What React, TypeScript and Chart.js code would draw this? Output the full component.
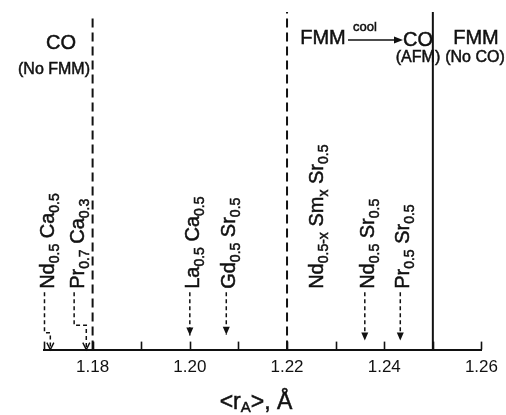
import { useEffect, useRef } from 'react';
import { Chart, registerables } from 'chart.js';

Chart.register(...registerables);

// ---- data ----
const xMin = 1.17;
const xMax = 1.26;
const xStep = 0.01;
const tickLabelValues = [1.18, 1.2, 1.22, 1.24, 1.26];

// phase boundaries (<r_A> in Å)
const boundaryRA = [1.18, 1.22, 1.25];
const boundaryDashed = [true, true, false];

// compounds
const compoundNames = [
  'Nd_{0.5} Ca_{0.5}',
  'Pr_{0.7} Ca_{0.3}',
  'La_{0.5} Ca_{0.5}',
  'Gd_{0.5} Sr_{0.5}',
  'Nd_{0.5-x} Sm_{x} Sr_{0.5}',
  'Nd_{0.5} Sr_{0.5}',
  'Pr_{0.5} Sr_{0.5}',
];
const compoundRA: (number | null)[] = [1.1713, 1.1787, 1.2, 1.2075, null, 1.236, 1.2433];
const labelRA = [1.1701, 1.1762, 1.2, 1.2075, 1.2255, 1.236, 1.2433];

// region texts
const regionTexts = ['CO', '(No FMM)', 'FMM', 'cool', 'CO', '(AFM)', 'FMM', '(No CO)'];

// ---- layout / style (not data) ----
const FONT = '"Liberation Sans", Arial, Helvetica, sans-serif';
const LABEL_START_V = 18;
const LINE_START_V = 17;
const bendV = [5, 7.2];
const tipV: Record<number, number> = { 2: 4.2, 3: 4.4, 5: 2.7, 6: 2.7 };

function parseRich(s: string) {
  const segs: { t: string; sub: boolean }[] = [];
  const re = /_\{([^}]*)\}/g;
  let last = 0;
  let m: RegExpExecArray | null;
  while ((m = re.exec(s))) {
    if (m.index > last) segs.push({ t: s.slice(last, m.index), sub: false });
    segs.push({ t: m[1], sub: true });
    last = m.index + m[0].length;
  }
  if (last < s.length) segs.push({ t: s.slice(last), sub: false });
  return segs;
}

function boldText(ctx: CanvasRenderingContext2D, t: string, x: number, y: number) {
  ctx.fillText(t, x, y);
  ctx.strokeText(t, x, y);
}

const schematicPlugin = {
  id: 'schematic',
  afterDraw(chart: any) {
    const ctx: CanvasRenderingContext2D = chart.ctx;
    const xs = chart.scales.x;
    const ys = chart.scales.y;
    const area = chart.chartArea;
    ctx.save();
    ctx.fillStyle = '#111';
    ctx.strokeStyle = '#111';

    // inward ticks
    ctx.lineWidth = 1.6;
    xs.ticks.forEach((t: any) => {
      const px = Math.round(xs.getPixelForValue(t.value)) + 0.5;
      ctx.beginPath();
      ctx.moveTo(px, area.bottom);
      ctx.lineTo(px, area.bottom - 8);
      ctx.stroke();
    });

    // arrowheads
    let dsIndex = boundaryRA.length;
    compoundRA.forEach((v, i) => {
      if (v === null) return;
      const meta = chart.getDatasetMeta(dsIndex++);
      const pts = meta.data;
      const p = pts[pts.length - 1];
      const bent = labelRA[i] !== v;
      ctx.setLineDash([]);
      if (bent) {
        ctx.lineWidth = 1.4;
        ctx.beginPath();
        ctx.moveTo(p.x - 3.5, p.y - 7);
        ctx.lineTo(p.x, p.y);
        ctx.lineTo(p.x + 3.5, p.y - 7);
        ctx.stroke();
      } else {
        ctx.beginPath();
        ctx.moveTo(p.x - 3.5, p.y - 8);
        ctx.lineTo(p.x + 3.5, p.y - 8);
        ctx.lineTo(p.x, p.y);
        ctx.closePath();
        ctx.fill();
      }
    });

    ctx.lineWidth = 0.5;

    // rotated compound labels
    const mainSize = 20;
    const subSize = 14;
    compoundNames.forEach((name, i) => {
      const bent = compoundRA[i] !== null && labelRA[i] !== compoundRA[i];
      const cx = xs.getPixelForValue(labelRA[i]) + (bent ? 3 : 2);
      const sy = ys.getPixelForValue(LABEL_START_V);
      ctx.save();
      ctx.translate(cx + 7, sy);
      ctx.rotate(-Math.PI / 2);
      ctx.textBaseline = 'alphabetic';
      ctx.textAlign = 'left';
      let x = 0;
      parseRich(name).forEach((seg) => {
        ctx.font = `${seg.sub ? subSize : mainSize}px ${FONT}`;
        boldText(ctx, seg.t, x, seg.sub ? 5 : 0);
        x += ctx.measureText(seg.t).width;
      });
      ctx.restore();
    });

    // region texts
    const big = `20px ${FONT}`;
    const small = `16px ${FONT}`;
    ctx.textAlign = 'center';
    ctx.textBaseline = 'middle';
    const put = (t: string, x: number, y: number, f: string) => {
      ctx.font = f;
      boldText(ctx, t, x, y);
    };
    put(regionTexts[0], 61, 43, big);
    put(regionTexts[1], 54, 70, small);
    put(regionTexts[2], 323, 38, big);
    put(regionTexts[3], 365, 27, `13px ${FONT}`);
    put(regionTexts[4], 418, 40, big);
    put(regionTexts[5], 418, 58, small);
    put(regionTexts[6], 476, 38, big);
    put(regionTexts[7], 475, 58, small);

    // cool arrow
    ctx.lineWidth = 1.3;
    ctx.beginPath();
    ctx.moveTo(348, 40);
    ctx.lineTo(395, 40);
    ctx.stroke();
    ctx.beginPath();
    ctx.moveTo(403, 40);
    ctx.lineTo(394, 36.5);
    ctx.lineTo(394, 43.5);
    ctx.closePath();
    ctx.fill();

    // x title  <r_A>, Å
    ctx.lineWidth = 0.5;
    const tsz = 23;
    const segs = [
      { t: '<r', sub: false },
      { t: 'A', sub: true },
      { t: '>, Å', sub: false },
    ];
    let w = 0;
    segs.forEach((s) => {
      ctx.font = `${s.sub ? 15 : tsz}px ${FONT}`;
      w += ctx.measureText(s.t).width;
    });
    let tx = 256 - w / 2;
    const ty = 409;
    ctx.textAlign = 'left';
    ctx.textBaseline = 'alphabetic';
    segs.forEach((s) => {
      ctx.font = `${s.sub ? 15 : tsz}px ${FONT}`;
      boldText(ctx, s.t, tx, s.sub ? ty + 3 : ty);
      tx += ctx.measureText(s.t).width;
    });

    ctx.restore();
  },
};

export default function App() {
  const ref = useRef<HTMLCanvasElement>(null);
  useEffect(() => {
    const canvas = ref.current;
    if (!canvas) return;
    const datasets: any[] = [];
    boundaryRA.forEach((v, i) => {
      datasets.push({
        data: [
          { x: v, y: 0 },
          { x: v, y: i === 0 ? 99 : 100 },
        ],
        borderColor: '#111',
        borderWidth: 2,
        borderDash: boundaryDashed[i] ? [9, 5] : [],
        pointRadius: 0,
        clip: false,
      });
    });
    let bentIdx = 0;
    compoundRA.forEach((v, i) => {
      if (v === null) return;
      const lx = labelRA[i];
      let data;
      if (lx !== v) {
        const b = bendV[bentIdx++];
        data = [
          { x: lx, y: LINE_START_V },
          { x: lx, y: b },
          { x: v, y: b },
          { x: v, y: 0 },
        ];
      } else {
        data = [
          { x: v, y: LINE_START_V },
          { x: v, y: tipV[i] },
        ];
      }
      datasets.push({
        data,
        borderColor: '#111',
        borderWidth: 1.5,
        borderDash: [4, 3],
        pointRadius: 0,
        tension: 0,
        clip: false,
      });
    });

    const chart = new Chart(canvas, {
      type: 'line',
      data: { datasets },
      options: {
        animation: false,
        responsive: false,
        events: [],
        layout: { padding: { left: 44, right: 19, top: 12, bottom: 29 } },
        plugins: { legend: { display: false }, tooltip: { enabled: false } },
        scales: {
          x: {
            type: 'linear',
            min: xMin,
            max: xMax,
            grid: { display: true, drawOnChartArea: false, drawTicks: false },
            border: { display: true, color: '#111', width: 2 },
            ticks: {
              stepSize: xStep,
              autoSkip: false,
              maxRotation: 0,
              padding: 8,
              color: '#111',
              font: { family: FONT, size: 17 },
              callback: (val: any) => {
                const v = Math.round(Number(val) * 100) / 100;
                return tickLabelValues.some((t) => Math.abs(t - v) < 1e-6) ? v.toFixed(2) : '';
              },
            },
          },
          y: { type: 'linear', min: 0, max: 100, display: false },
        },
      },
      plugins: [schematicPlugin],
    } as any);
    return () => chart.destroy();
  }, []);
  return (
    <div style={{ position: 'fixed', left: 0, top: 0, width: 506, height: 415, background: '#fff' }}>
      <canvas ref={ref} width={506} height={415} style={{ display: 'block' }} />
    </div>
  );
}
